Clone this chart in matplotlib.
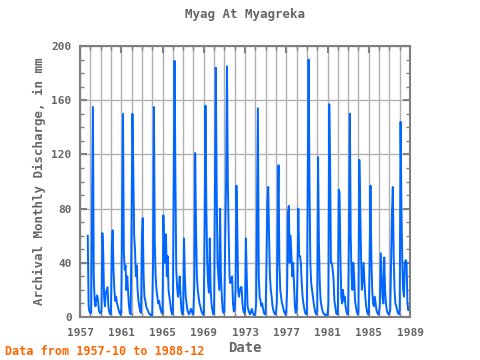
import numpy as np
import pandas as pd
import matplotlib
matplotlib.use("Agg")
import matplotlib.pyplot as plt
from matplotlib.ticker import MultipleLocator, FixedLocator

# monthly discharge (mm), 1957-10 .. 1988-12, one row per year (Jan..Dec)
y1957 = [60, 8, 4]
y1958 = [3, 3, 77, 155, 30, 12, 8, 14, 16, 12, 5, 3]
y1959 = [3, 4, 62, 48, 15, 8, 18, 20, 22, 8, 4, 2]
y1960 = [3, 53, 64, 34, 20, 12, 15, 10, 8, 5, 3, 2]
y1961 = [3, 73, 150, 48, 35, 38, 20, 30, 18, 8, 3, 2]
y1962 = [73, 150, 108, 60, 50, 30, 38, 20, 12, 8, 4, 3]
y1963 = [60, 73, 30, 15, 12, 8, 6, 5, 3, 2, 2, 1]
y1964 = [2, 40, 155, 55, 30, 20, 15, 10, 12, 8, 5, 3]
y1965 = [3, 75, 50, 40, 61, 30, 45, 20, 15, 10, 5, 2]
y1966 = [3, 93, 189, 103, 35, 22, 15, 20, 30, 15, 5, 2]
y1967 = [4, 58, 30, 15, 10, 5, 3, 2, 4, 6, 5, 2]
y1968 = [3, 25, 121, 65, 30, 20, 15, 10, 8, 5, 3, 2]
y1969 = [3, 70, 156, 80, 40, 25, 18, 58, 20, 10, 5, 2]
y1970 = [3, 95, 184, 96, 40, 30, 20, 80, 30, 15, 5, 3]
y1971 = [4, 60, 100, 185, 102, 60, 30, 25, 28, 30, 10, 4]
y1972 = [5, 20, 97, 66, 20, 15, 20, 22, 22, 10, 5, 3]
y1973 = [4, 58, 30, 8, 5, 3, 2, 4, 6, 3, 2, 1]
y1974 = [3, 10, 80, 154, 30, 15, 12, 8, 10, 6, 3, 2]
y1975 = [3, 40, 84, 96, 60, 30, 20, 15, 8, 5, 3, 2]
y1976 = [3, 10, 70, 112, 40, 20, 15, 10, 8, 5, 3, 2]
y1977 = [3, 20, 77, 82, 40, 60, 45, 30, 40, 25, 8, 3]
y1978 = [5, 30, 80, 45, 45, 40, 25, 15, 10, 6, 3, 2]
y1979 = [3, 93, 190, 100, 40, 25, 20, 15, 10, 6, 3, 2]
y1980 = [4, 118, 55, 25, 12, 8, 5, 3, 2, 2, 1, 1]
y1981 = [2, 10, 157, 115, 40, 40, 35, 28, 12, 8, 3, 2]
y1982 = [3, 94, 92, 45, 15, 10, 20, 12, 15, 8, 4, 2]
y1983 = [3, 65, 150, 60, 30, 20, 40, 30, 12, 8, 4, 2]
y1984 = [3, 116, 84, 45, 20, 30, 40, 25, 15, 8, 4, 2]
y1985 = [3, 40, 97, 45, 20, 10, 8, 15, 10, 5, 3, 2]
y1986 = [3, 10, 47, 30, 15, 10, 44, 20, 10, 5, 3, 2]
y1987 = [3, 5, 40, 77, 96, 45, 20, 10, 8, 5, 3, 2]
y1988 = [5, 144, 83, 41, 20, 15, 40, 42, 40, 10, 5, 7]

years = [y1957, y1958, y1959, y1960, y1961, y1962, y1963, y1964, y1965, y1966,
         y1967, y1968, y1969, y1970, y1971, y1972, y1973, y1974, y1975, y1976,
         y1977, y1978, y1979, y1980, y1981, y1982, y1983, y1984, y1985, y1986,
         y1987, y1988]
discharge = [v for yr in years for v in yr]
dates = pd.date_range("1957-10-01", periods=len(discharge), freq="MS")
t = dates.year + (dates.month - 1) / 12.0

year_ticks = list(range(1957, 1990, 4))

mono = "DejaVu Sans Mono"
gray = "#808080"
txt = "#666666"

fig = plt.figure(figsize=(4.8, 3.6), dpi=100)
ax = fig.add_axes([0.1667, 0.1194, 0.6875, 0.7528])
ax.plot(t, discharge, color="#0066ff", lw=1.4)

ax.set_xlim(1957, 1989)
ax.set_ylim(0, 200)
ax.xaxis.set_major_locator(FixedLocator(year_ticks))
ax.xaxis.set_minor_locator(MultipleLocator(1))
ax.yaxis.set_major_locator(MultipleLocator(40))
ax.yaxis.set_minor_locator(MultipleLocator(10))
ax.grid(which="major", axis="y", color="#b0b0b0", lw=1)
ax.grid(which="both", axis="x", color="#b0b0b0", lw=1)
ax.tick_params(which="both", direction="in", top=True, right=True,
               color=gray, labelcolor=txt, labelsize=8)
ax.tick_params(which="major", length=5, width=1.5)
ax.tick_params(which="minor", length=3, width=1)
ax.tick_params(axis="x", pad=8)
ax.tick_params(axis="y", pad=6)
for lab in ax.get_xticklabels() + ax.get_yticklabels():
    lab.set_family(mono)
    lab.set_fontweight("bold")
for s in ax.spines.values():
    s.set_color(gray)
    s.set_linewidth(1.5)

ax.set_title("Myag At Myagreka", family=mono, fontsize=9, color=txt,
             fontweight="bold", pad=20)
ax.set_xlabel("Date", family=mono, fontsize=10, color=txt, fontweight="bold",
              labelpad=2)
ax.set_ylabel("Archival Monthly Discharge, in mm", family=mono, fontsize=9,
              color=txt, fontweight="bold")
fig.text(0.01, 0.015, "Data from 1957-10 to 1988-12", family=mono, fontsize=8.5,
         color="#ff6600", fontweight="bold")

fig.savefig("out.png", dpi=100)
